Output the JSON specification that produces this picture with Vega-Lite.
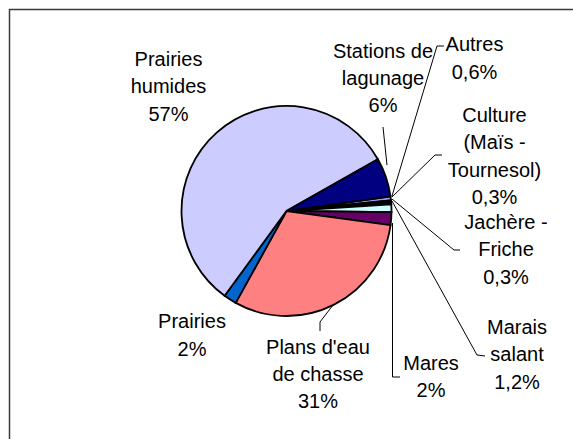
{
  "$schema": "https://vega.github.io/schema/vega-lite/v6.json",
  "width": 573,
  "height": 422,
  "autosize": {"type": "none"},
  "padding": {"left": 0, "top": 0, "right": 0, "bottom": 17},
  "background": "white",
  "view": {"stroke": null},
  "datasets": {
    "parts": [
      {"categorie": "Autres", "part": 0.6},
      {"categorie": "Culture (Maïs - Tournesol)", "part": 0.3},
      {"categorie": "Jachère - Friche", "part": 0.3},
      {"categorie": "Marais salant", "part": 1.2},
      {"categorie": "Mares", "part": 2},
      {"categorie": "Plans d'eau de chasse", "part": 31},
      {"categorie": "Prairies", "part": 2},
      {"categorie": "Prairies humides", "part": 57},
      {"categorie": "Stations de lagunage", "part": 6}
    ],
    "etiquettes": [
      {"texte": "Prairies\nhumides\n57%", "lx": -118, "ly": 150.8},
      {"texte": "Stations de\nlagunage\n6%", "lx": 96.5, "ly": 159.3},
      {"texte": "Autres\n0,6%", "lx": 188, "ly": 165.6},
      {"texte": "Culture\n(Maïs -\nTournesol)\n0,3%", "lx": 208, "ly": 94.8},
      {"texte": "Jachère -\nFriche\n0,3%", "lx": 219.5, "ly": -12.2},
      {"texte": "Marais\nsalant\n1,2%", "lx": 230.5, "ly": -117},
      {"texte": "Mares\n2%", "lx": 144.5, "ly": -153.2},
      {"texte": "Prairies\n2%", "lx": -94.5, "ly": -111.4},
      {"texte": "Plans d'eau\nde chasse\n31%", "lx": 31.5, "ly": -136.9}
    ],
    "reperes": [
      {"ligne": "Stations", "n": 1, "lx": 96.5, "ly": 84},
      {"ligne": "Stations", "n": 2, "lx": 100.5, "ly": 46},
      {"ligne": "Autres", "n": 1, "lx": 157.5, "ly": 165},
      {"ligne": "Autres", "n": 2, "lx": 150.5, "ly": 165},
      {"ligne": "Autres", "n": 3, "lx": 105.5, "ly": 15},
      {"ligne": "Culture", "n": 1, "lx": 155.5, "ly": 56},
      {"ligne": "Culture", "n": 2, "lx": 148.5, "ly": 56},
      {"ligne": "Culture", "n": 3, "lx": 105.5, "ly": 14},
      {"ligne": "Jachere", "n": 1, "lx": 173.5, "ly": -39},
      {"ligne": "Jachere", "n": 2, "lx": 167.5, "ly": -39},
      {"ligne": "Jachere", "n": 3, "lx": 105.5, "ly": 12},
      {"ligne": "Marais", "n": 1, "lx": 198.5, "ly": -145},
      {"ligne": "Marais", "n": 2, "lx": 190.5, "ly": -144},
      {"ligne": "Marais", "n": 3, "lx": 105.5, "ly": 10},
      {"ligne": "Mares", "n": 1, "lx": 113.5, "ly": -166},
      {"ligne": "Mares", "n": 2, "lx": 106, "ly": -166},
      {"ligne": "Mares", "n": 3, "lx": 106, "ly": -12},
      {"ligne": "Plans", "n": 1, "lx": 33.5, "ly": -120},
      {"ligne": "Plans", "n": 2, "lx": 33.5, "ly": -111},
      {"ligne": "Plans", "n": 3, "lx": 46.5, "ly": -94}
    ],
    "cadre": [
      {"n": 1, "lx": -277, "ly": -228},
      {"n": 2, "lx": -277, "ly": 201.5},
      {"n": 3, "lx": 287, "ly": 201.5}
    ]
  },
  "layer": [
    {
      "data": {"name": "cadre"},
      "mark": {"type": "line", "stroke": "#3a3a3a", "strokeWidth": 1.5},
      "encoding": {
        "x": {"field": "lx", "type": "quantitative", "scale": {"domain": [-286.5, 286.5]}, "axis": null},
        "y": {"field": "ly", "type": "quantitative", "scale": {"domain": [-211, 211]}, "axis": null},
        "order": {"field": "n", "type": "quantitative"}
      }
    },
    {
      "data": {"name": "parts"},
      "mark": {"type": "arc", "outerRadius": 105, "stroke": "black", "strokeWidth": 1.8, "strokeJoin": "miter"},
      "encoding": {
        "theta": {"field": "part", "type": "quantitative", "stack": true, "scale": {"range": [1.4312, 7.7144]}},
        "color": {
          "field": "categorie",
          "type": "nominal",
          "legend": null,
          "scale": {
            "domain": ["Autres", "Culture (Maïs - Tournesol)", "Jachère - Friche", "Marais salant", "Mares", "Plans d'eau de chasse", "Prairies", "Prairies humides", "Stations de lagunage"],
            "range": ["#9999FF", "#993366", "#FFFFCC", "#CCFFFF", "#660066", "#FF8080", "#0066CC", "#CCCCFF", "#000080"]
          }
        },
        "order": {"field": "categorie", "type": "nominal", "sort": "ascending"}
      }
    },
    {
      "data": {"name": "reperes"},
      "mark": {"type": "line", "stroke": "black", "strokeWidth": 1},
      "encoding": {
        "x": {"field": "lx", "type": "quantitative", "scale": {"domain": [-286.5, 286.5]}, "axis": null},
        "y": {"field": "ly", "type": "quantitative", "scale": {"domain": [-211, 211]}, "axis": null},
        "detail": {"field": "ligne", "type": "nominal"},
        "order": {"field": "n", "type": "quantitative"}
      }
    },
    {
      "data": {"name": "etiquettes"},
      "mark": {"type": "text", "font": "Liberation Sans", "fontSize": 20, "lineHeight": 27.3, "lineBreak": "\n", "align": "center", "baseline": "middle", "color": "black"},
      "encoding": {
        "x": {"field": "lx", "type": "quantitative", "scale": {"domain": [-286.5, 286.5]}, "axis": null},
        "y": {"field": "ly", "type": "quantitative", "scale": {"domain": [-211, 211]}, "axis": null},
        "text": {"field": "texte", "type": "nominal"}
      }
    }
  ]
}
